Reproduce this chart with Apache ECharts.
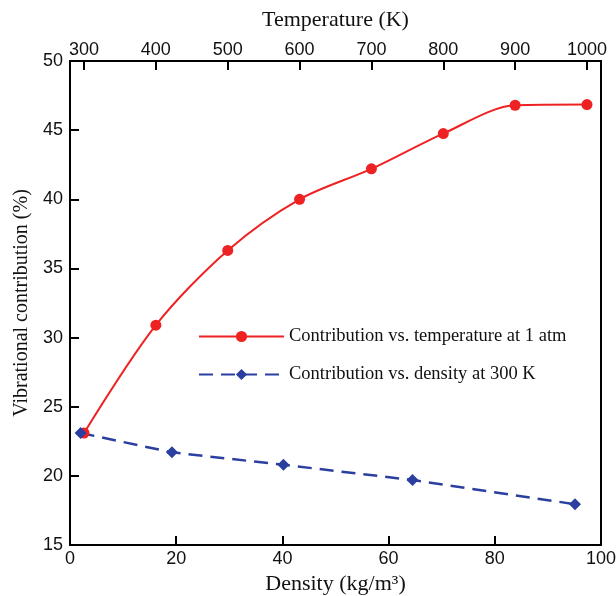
<!DOCTYPE html>
<html>
<head>
<meta charset="utf-8">
<script src="https://cdn.jsdelivr.net/npm/echarts@6/dist/echarts.min.js"></script>
<style>html,body{margin:0;padding:0;background:#fff}#c{width:616px;height:596px}</style>
</head>
<body>
<div id="c"></div>
<script>
var temperatureK = [300, 400, 500, 600, 700, 800, 900, 1000];
var contribVsTemp = [23.1, 30.9, 36.3, 40.0, 42.2, 44.75, 46.8, 46.85];
var densityKgM3 = [2.0, 19.2, 40.2, 64.5, 95.1];
var contribVsDensity = [23.1, 21.7, 20.8, 19.7, 17.95];
var tempTicks = [300, 400, 500, 600, 700, 800, 900, 1000];
var densityTicks = [0, 20, 40, 60, 80, 100];
var legendNames = ['Contribution vs. temperature at 1 atm', 'Contribution vs. density at 300 K'];

var sans = 'Liberation Sans, Arial, sans-serif';
var serif = 'Liberation Serif, Times New Roman, serif';

var chart = echarts.init(document.getElementById('c'), null, {renderer: 'canvas'});
chart.setOption({
  animation: false,
  backgroundColor: '#fff',
  grid: {left: 70, right: 15, top: 61, bottom: 51, outerBoundsMode: 'none', containLabel: false,
         show: true, borderColor: '#000', borderWidth: 2, backgroundColor: 'transparent'},
  legend: {
    orient: 'vertical', left: 193, top: 322, itemWidth: 85, itemHeight: 14, itemGap: 19,
    textStyle: {fontFamily: serif, fontSize: 18.5, color: '#111'},
    data: legendNames
  },
  xAxis: [
    {
      type: 'value', position: 'bottom', min: 0, max: 100, interval: 20,
      name: 'Density (kg/m\u00b3)', nameLocation: 'middle', nameGap: 28,
      nameTextStyle: {fontFamily: serif, fontSize: 22, color: '#111'},
      axisLine: {show: true, lineStyle: {color: '#000', width: 2}},
      axisTick: {show: true, inside: true, length: 9, lineStyle: {color: '#000', width: 2}},
      axisLabel: {fontFamily: sans, fontSize: 18, color: '#111', margin: 5, customValues: densityTicks},
      splitLine: {show: false}
    },
    {
      type: 'value', position: 'top', min: 280.5, max: 1019.5,
      name: 'Temperature (K)', nameLocation: 'middle', nameGap: 30,
      nameTextStyle: {fontFamily: serif, fontSize: 22, color: '#111'},
      axisLine: {show: true, lineStyle: {color: '#000', width: 2}},
      axisTick: {show: true, inside: true, length: 9, lineStyle: {color: '#000', width: 2}, customValues: tempTicks},
      axisLabel: {fontFamily: sans, fontSize: 18, color: '#111', margin: 2, customValues: tempTicks,
                  formatter: function (v) { return String(v); }},
      splitLine: {show: false}
    }
  ],
  yAxis: {
    type: 'value', min: 15, max: 50, interval: 5,
    name: 'Vibrational contribution (%)', nameLocation: 'middle', nameGap: 38, nameRotate: 90,
    nameTextStyle: {fontFamily: serif, fontSize: 20, color: '#111'},
    axisLine: {show: true, lineStyle: {color: '#000', width: 2}},
    axisTick: {show: true, inside: true, length: 9, lineStyle: {color: '#000', width: 2}},
    axisLabel: {fontFamily: sans, fontSize: 18, color: '#111', margin: 7},
    splitLine: {show: false}
  },
  series: [
    {
      name: legendNames[0], type: 'line', xAxisIndex: 1, smooth: 0.3,
      data: temperatureK.map(function (t, i) { return [t, contribVsTemp[i]]; }),
      symbol: 'circle', symbolSize: 11,
      lineStyle: {color: '#ee2222', width: 2},
      itemStyle: {color: '#ee2222'}
    },
    {
      name: legendNames[1], type: 'line', xAxisIndex: 0,
      data: densityKgM3.map(function (d, i) { return [d, contribVsDensity[i]]; }),
      symbol: 'diamond', symbolSize: 12,
      lineStyle: {color: '#2b3fa0', width: 2.5, type: [14, 8]},
      itemStyle: {color: '#2b3fa0'}
    }
  ]
});
</script>
</body>
</html>
